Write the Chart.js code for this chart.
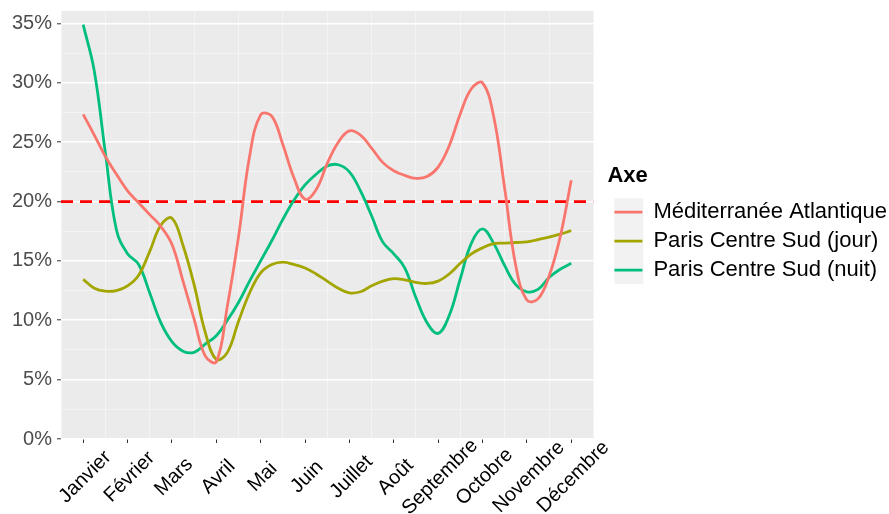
<!DOCTYPE html>
<html>
<head>
<meta charset="utf-8">
<script src="https://cdn.jsdelivr.net/npm/chart.js@4.4.1/dist/chart.umd.min.js"></script>
<style>
  body { margin: 0; background: #ffffff; }
</style>
</head>
<body>
<canvas id="myChart" width="889" height="514"></canvas>
<script>
// month names shown under the x axis (positions 1..12)
const months = ['Janvier', 'Février', 'Mars', 'Avril', 'Mai', 'Juin', 'Juillet',
  'Août', 'Septembre', 'Octobre', 'Novembre', 'Décembre'];

// x position of each reading (in months), read every quarter month
const monthPos = [1, 1.25, 1.5, 1.75, 2, 2.25, 2.5, 2.75, 3, 3.25, 3.5, 3.75,
  4, 4.25, 4.5, 4.75, 5, 5.25, 5.5, 5.75, 6, 6.25, 6.5, 6.75, 7, 7.25, 7.5, 7.75,
  8, 8.25, 8.5, 8.75, 9, 9.25, 9.5, 9.75, 10, 10.25, 10.5, 10.75, 11, 11.25, 11.5, 11.75, 12];

const mediterranee = [27.35, 25.6, 23.8, 22.3, 20.9, 19.9, 18.9, 17.9, 16.4, 13.3, 10.1, 7.0,
  6.5, 11.2, 17.0, 23.8, 27.3, 27.2, 24.8, 22.0, 20.2, 21.0, 23.2, 25.0, 25.95, 25.6, 24.5, 23.3,
  22.6, 22.2, 21.95, 22.1, 22.9, 24.7, 27.4, 29.5, 30.0, 27.2, 21.1, 14.6, 11.7, 11.8, 13.7, 17.0, 21.8];

const parisJour = [13.45, 12.7, 12.45, 12.5, 12.9, 13.8, 15.8, 18.0, 18.6, 16.3, 13.0, 9.0,
  6.7, 7.3, 9.9, 12.3, 14.0, 14.7, 14.9, 14.7, 14.4, 13.9, 13.3, 12.7, 12.3, 12.4, 12.9, 13.3,
  13.5, 13.4, 13.2, 13.1, 13.3, 13.9, 14.8, 15.6, 16.1, 16.45, 16.5, 16.55, 16.6, 16.8, 17.0, 17.25, 17.55];

const parisNuit = [34.9, 31.0, 24.1, 17.6, 15.6, 14.7, 12.3, 9.8, 8.2, 7.4, 7.3, 8.0,
  8.7, 10.0, 11.5, 13.3, 15.0, 16.7, 18.5, 20.1, 21.4, 22.3, 23.0, 23.1, 22.5, 20.9, 18.8, 16.6,
  15.6, 14.4, 11.9, 9.8, 8.9, 10.4, 13.5, 16.5, 17.7, 16.5, 14.6, 13.0, 12.4, 12.6, 13.6, 14.3, 14.8];

// dashed reference line
const threshold = 20;
const thresholdRange = [0.5, 12.5];

const fontFamily = '"Liberation Sans", Arial, sans-serif';
const keyWidth = 28;

function toPoints(values) {
  return monthPos.map((x, i) => ({ x: x, y: values[i] }));
}

function lineSet(label, values, color) {
  return {
    label: label,
    data: toPoints(values),
    borderColor: color,
    backgroundColor: color,
    borderWidth: 2.8,
    pointRadius: 0,
    tension: 0.4,
    fill: false
  };
}

// grey panel + grey legend key background (ggplot look)
const panelBackground = {
  id: 'panelBackground',
  beforeDraw(chart) {
    const { ctx, chartArea } = chart;
    ctx.save();
    ctx.fillStyle = '#EBEBEB';
    ctx.fillRect(chartArea.left, chartArea.top, chartArea.right - chartArea.left, chartArea.bottom - chartArea.top);
    const boxes = chart.legend.legendHitBoxes;
    if (boxes && boxes.length) {
      const first = boxes[0];
      const last = boxes[boxes.length - 1];
      ctx.fillStyle = '#F2F2F2';
      ctx.fillRect(first.left, first.top + first.height / 2 - 14, keyWidth + 1, last.top - first.top + 28);
    }
    ctx.restore();
  }
};

// month labels, rotated 45 degrees and centred on their tick
const monthLabels = {
  id: 'monthLabels',
  afterDraw(chart) {
    const { ctx } = chart;
    const xScale = chart.scales.x;
    ctx.save();
    ctx.font = '20px ' + fontFamily;
    ctx.fillStyle = '#000000';
    ctx.textAlign = 'center';
    ctx.textBaseline = 'middle';
    months.forEach((name, i) => {
      ctx.save();
      ctx.translate(xScale.getPixelForValue(i + 1) + 2, xScale.top + 38);
      ctx.rotate(-Math.PI / 4);
      ctx.fillText(name, 0, 0);
      ctx.restore();
    });
    ctx.restore();
  }
};

function isWhole(v) {
  return Math.abs(v - Math.round(v)) < 1e-6;
}

function mainEvent() {
  const target = document.querySelector('#myChart');

  const data = {
    datasets: [
      lineSet('Méditerranée Atlantique', mediterranee, '#F8766D'),
      lineSet('Paris Centre Sud (jour)', parisJour, '#A3A500'),
      lineSet('Paris Centre Sud (nuit)', parisNuit, '#00BF7D'),
      {
        label: 'Seuil',
        data: thresholdRange.map((x) => ({ x: x, y: threshold })),
        borderColor: '#FF0000',
        borderWidth: 2.8,
        borderDash: [12, 7],
        pointRadius: 0,
        tension: 0,
        fill: false
      }
    ]
  };

  const config = {
    type: 'line',
    data: data,
    options: {
      responsive: false,
      animation: false,
      devicePixelRatio: 1,
      layout: { padding: { top: 11, right: -8, bottom: 0, left: 0 } },
      plugins: {
        tooltip: { enabled: false },
        legend: {
          position: 'right',
          align: 'center',
          fullSize: false,
          maxWidth: 320,
          title: {
            display: true,
            text: 'Axe',
            position: 'start',
            color: '#000000',
            padding: 3,
            font: { family: fontFamily, size: 22, weight: 'bold' }
          },
          labels: {
            filter: (item) => item.datasetIndex < 3,
            usePointStyle: true,
            pointStyle: 'line',
            pointStyleWidth: keyWidth,
            color: '#000000',
            padding: 7,
            font: { family: fontFamily, size: 22 }
          }
        }
      },
      scales: {
        x: {
          type: 'linear',
          min: 0.5,
          max: 12.5,
          border: { display: false },
          ticks: { display: false, stepSize: 0.5, autoSkip: false },
          grid: {
            color: (c) => (isWhole(c.tick.value) ? 'rgba(0,0,0,0)' : '#F4F4F4'),
            lineWidth: 1,
            tickColor: (c) => (isWhole(c.tick.value) ? '#333333' : 'rgba(0,0,0,0)'),
            tickLength: 4,
            tickWidth: 1
          },
          afterFit: (scale) => {
            scale.height = 75;
            scale.paddingLeft = 0;
            scale.paddingRight = 0;
          }
        },
        y: {
          min: 0,
          max: 36.05,
          border: { display: false },
          ticks: {
            stepSize: 2.5,
            includeBounds: false,
            padding: 5,
            color: '#4D4D4D',
            font: { family: fontFamily, size: 20 },
            callback: (value) => (isWhole(value / 5) ? value + '%' : '')
          },
          grid: {
            color: (c) => (isWhole(c.tick.value / 5) ? '#FFFFFF' : '#F4F4F4'),
            lineWidth: (c) => (isWhole(c.tick.value / 5) ? 1.6 : 0.9),
            tickColor: (c) => (isWhole(c.tick.value / 5) ? '#333333' : 'rgba(0,0,0,0)'),
            tickLength: 4,
            tickWidth: 1
          },
          afterFit: (scale) => {
            scale.width = 61;
            scale.paddingTop = 0;
            scale.paddingBottom = 0;
          }
        },
        gap: {
          type: 'linear',
          position: 'right',
          border: { display: false },
          grid: { display: false },
          ticks: { display: false },
          afterFit: (scale) => {
            scale.width = 14;
            scale.paddingTop = 0;
            scale.paddingBottom = 0;
          }
        }
      }
    },
    plugins: [panelBackground, monthLabels]
  };

  return new Chart(target, config);
}

mainEvent();
</script>
</body>
</html>
